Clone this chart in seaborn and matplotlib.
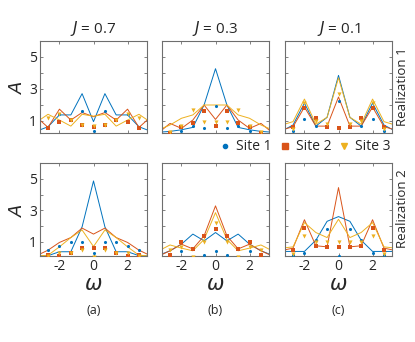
import numpy as np
import pandas as pd
import matplotlib
matplotlib.use('Agg')
import matplotlib.pyplot as plt
import seaborn as sns
from matplotlib.lines import Line2D

# frequency grids
omega_line = [-3.33, -2.67, -2.0, -1.33, -0.67, 0.0, 0.67, 1.33, 2.0, 2.67, 3.33]
omega_dots = [-2.67, -2.0, -1.33, -0.67, 0.0, 0.67, 1.33, 2.0, 2.67]

j_labels = ['0.7', '0.3', '0.1']
panel_tags = ['(a)', '(b)', '(c)']
sites = ['Site 1', 'Site 2', 'Site 3']

# Realization 1, lines
r1_j07_line1 = [0.37, 0.64, 1.38, 1.38, 2.71, 0.96, 2.71, 1.38, 1.38, 0.64, 0.37]
r1_j07_line2 = [1.23, 0.60, 1.74, 1.06, 1.53, 1.27, 1.53, 1.06, 1.74, 0.60, 1.23]
r1_j07_line3 = [0.94, 1.42, 1.06, 0.68, 1.42, 1.30, 1.42, 0.68, 1.06, 1.42, 0.94]
r1_j03_line1 = [0.30, 0.35, 0.45, 0.60, 2.00, 4.27, 2.00, 0.60, 0.45, 0.35, 0.30]
r1_j03_line2 = [0.28, 0.85, 0.54, 1.06, 2.00, 1.10, 2.00, 1.06, 0.54, 0.85, 0.28]
r1_j03_line3 = [0.45, 0.75, 1.17, 1.38, 2.00, 2.00, 2.00, 1.38, 1.17, 0.75, 0.45]
r1_j01_line1 = [0.37, 0.75, 2.12, 0.68, 1.23, 3.85, 1.23, 0.68, 2.12, 0.75, 0.37]
r1_j01_line2 = [0.45, 0.64, 1.87, 0.68, 0.68, 2.50, 0.68, 0.68, 1.87, 0.64, 0.45]
r1_j01_line3 = [0.75, 0.96, 2.37, 0.80, 1.23, 3.70, 1.23, 0.80, 2.37, 0.96, 0.75]

# Realization 1, dots
r1_j07_dot1 = [0.64, 1.42, 1.06, 1.65, 0.37, 1.65, 1.06, 1.42, 0.64]
r1_j07_dot2 = [0.54, 0.96, 1.06, 0.75, 0.64, 0.75, 1.06, 0.96, 0.54]
r1_j07_dot3 = [1.17, 1.42, 1.06, 0.75, 0.68, 0.75, 1.06, 1.42, 1.17]
r1_j03_dot1 = [0.25, 0.40, 0.68, 0.54, 1.95, 0.54, 0.68, 0.40, 0.25]
r1_j03_dot2 = [0.28, 0.60, 0.90, 1.60, 0.68, 1.60, 0.90, 0.60, 0.28]
r1_j03_dot3 = [0.30, 0.68, 1.70, 0.96, 0.96, 0.96, 1.70, 0.68, 0.30]
r1_j01_dot1 = [0.40, 1.10, 0.70, 0.70, 2.22, 0.70, 0.70, 1.10, 0.40]
r1_j01_dot2 = [0.60, 1.80, 1.17, 0.60, 0.54, 0.60, 1.17, 1.80, 0.60]
r1_j01_dot3 = [0.50, 2.10, 1.00, 0.80, 2.70, 0.80, 1.00, 2.10, 0.50]

# Realization 2, lines
r2_j07_line1 = [0.10, 0.12, 0.37, 0.37, 1.95, 4.86, 1.95, 0.37, 0.37, 0.12, 0.10]
r2_j07_line2 = [0.13, 0.47, 0.96, 1.27, 1.87, 1.49, 1.87, 1.27, 0.96, 0.47, 0.13]
r2_j07_line3 = [0.10, 0.15, 0.68, 1.27, 1.75, 0.70, 1.75, 1.27, 0.68, 0.15, 0.10]
r2_j03_line1 = [0.15, 0.43, 0.85, 1.49, 1.06, 1.59, 1.06, 1.49, 0.85, 0.43, 0.15]
r2_j03_line2 = [0.10, 0.43, 0.85, 0.55, 1.38, 3.28, 1.38, 0.55, 0.85, 0.43, 0.10]
r2_j03_line3 = [0.43, 0.80, 0.60, 0.43, 1.15, 2.85, 1.15, 0.43, 0.60, 0.80, 0.43]
r2_j01_line1 = [0.39, 0.39, 0.39, 1.10, 2.30, 2.60, 2.30, 1.10, 0.39, 0.39, 0.39]
r2_j01_line2 = [0.45, 0.60, 2.40, 0.75, 0.68, 4.44, 0.68, 0.75, 2.40, 0.60, 0.45]
r2_j01_line3 = [0.60, 0.68, 2.22, 1.59, 1.27, 2.43, 1.27, 1.59, 2.22, 0.68, 0.60]

# Realization 2, dots
r2_j07_dot1 = [0.47, 0.75, 0.96, 0.96, 0.32, 0.96, 0.96, 0.75, 0.47]
r2_j07_dot2 = [0.15, 0.12, 0.30, 0.60, 0.62, 0.60, 0.30, 0.12, 0.15]
r2_j07_dot3 = [0.12, 0.30, 0.30, 0.50, 0.05, 0.50, 0.30, 0.30, 0.12]
r2_j03_dot1 = [0.20, 0.40, 0.60, 0.18, 0.43, 0.18, 0.60, 0.40, 0.20]
r2_j03_dot2 = [0.15, 0.96, 0.54, 1.38, 1.80, 1.38, 0.54, 0.96, 0.15]
r2_j03_dot3 = [0.50, 0.65, 0.02, 0.96, 2.20, 0.96, 0.02, 0.65, 0.50]
r2_j01_dot1 = [0.15, 0.30, 1.10, 1.80, 0.10, 1.80, 1.10, 0.30, 0.15]
r2_j01_dot2 = [0.50, 1.87, 0.75, 0.68, 0.68, 0.68, 0.75, 1.87, 0.50]
r2_j01_dot3 = [0.20, 1.38, 0.96, 1.00, 0.96, 1.00, 0.96, 1.38, 0.20]

lines = [
    [[r1_j07_line1, r1_j07_line2, r1_j07_line3],
     [r1_j03_line1, r1_j03_line2, r1_j03_line3],
     [r1_j01_line1, r1_j01_line2, r1_j01_line3]],
    [[r2_j07_line1, r2_j07_line2, r2_j07_line3],
     [r2_j03_line1, r2_j03_line2, r2_j03_line3],
     [r2_j01_line1, r2_j01_line2, r2_j01_line3]],
]
dots = [
    [[r1_j07_dot1, r1_j07_dot2, r1_j07_dot3],
     [r1_j03_dot1, r1_j03_dot2, r1_j03_dot3],
     [r1_j01_dot1, r1_j01_dot2, r1_j01_dot3]],
    [[r2_j07_dot1, r2_j07_dot2, r2_j07_dot3],
     [r2_j03_dot1, r2_j03_dot2, r2_j03_dot3],
     [r2_j01_dot1, r2_j01_dot2, r2_j01_dot3]],
]

colors = {'Site 1': '#0072BD', 'Site 2': '#D95319', 'Site 3': '#EDB120'}
markers = {'Site 1': 'o', 'Site 2': 's', 'Site 3': 'v'}
dot_sizes = {'Site 1': 5, 'Site 2': 7, 'Site 3': 9}


def makeFrame(values, omega):
    rows = []
    for site, vals in zip(sites, values):
        for w, a in zip(omega, vals):
            rows.append({'omega': w, 'A': a, 'site': site})
    return pd.DataFrame(rows)


sns.set_style('ticks')
plt.rcParams['font.family'] = ['Open Sans', 'DejaVu Sans']
plt.rcParams['mathtext.fontset'] = 'dejavusans'
textColor = '#262626'
edgeColor = '#6e6e6e'

W, H = 415, 342
fig = plt.figure(figsize=(W / 100, H / 100), dpi=100)

colLeft = [40, 162, 285]
axW = 107
rowTop = [41, 163]
rowH = [92, 93]
ylims = [(0.25, 6), (0.1, 6)]

for r in range(2):
    for c in range(3):
        ax = fig.add_axes([colLeft[c] / W, 1 - (rowTop[r] + rowH[r]) / H, axW / W, rowH[r] / H])
        dfL = makeFrame(lines[r][c], omega_line)
        dfD = makeFrame(dots[r][c], omega_dots)
        sns.lineplot(data=dfL, x='omega', y='A', hue='site', palette=colors, estimator=None,
                     sort=False, lw=0.7, ax=ax, legend=False)
        for site in sites:
            sub = dfD[dfD.site == site]
            sns.scatterplot(data=sub, x='omega', y='A', color=colors[site], marker=markers[site],
                            s=dot_sizes[site], linewidth=0, ax=ax, legend=False, zorder=3)
        ax.set_xlim(-np.pi, np.pi)
        ax.set_ylim(*ylims[r])
        ax.set_xticks([-2, 0, 2])
        ax.set_yticks([1, 2, 3, 4, 5])
        ax.tick_params(direction='in', length=2.5, width=0.6, top=True, right=True,
                       colors=edgeColor, labelcolor=textColor, labelsize=10, pad=2)
        if c == 0:
            ax.set_yticklabels(['1', '', '3', '', '5'])
            ax.set_ylabel('$A$', fontsize=13, color=textColor, labelpad=2)
        else:
            ax.set_yticklabels([])
            ax.set_ylabel('')
        if r == 1:
            ax.set_xticklabels(['-2', '0', '2'])
            ax.set_xlabel(r'$\omega$', fontsize=15, color=textColor, labelpad=0)
        else:
            ax.set_xticklabels([])
            ax.set_xlabel('')
        for sp in ax.spines.values():
            sp.set_color(edgeColor)
            sp.set_linewidth(0.8)

# column titles and tags
for c in range(3):
    cx = (colLeft[c] + axW / 2) / W
    fig.text(cx, 1 - 28 / H, '$J$ = ' + j_labels[c], ha='center', va='center',
             fontsize=11, color=textColor)
    fig.text(cx, 1 - 310 / H, panel_tags[c], ha='center', va='center',
             fontsize=9, color=textColor)

fig.text(402 / W, 1 - 87 / H, 'Realization 1', rotation=90, ha='center', va='center',
         fontsize=9.5, color=textColor)
fig.text(402 / W, 1 - 209 / H, 'Realization 2', rotation=90, ha='center', va='center',
         fontsize=9.5, color=textColor)

handles = [Line2D([], [], ls='none', marker=markers[s], color=colors[s],
                  markersize={'Site 1': 3, 'Site 2': 4.5, 'Site 3': 5}[s]) for s in sites]
fig.legend(handles, sites, loc='center', bbox_to_anchor=(305 / W, 1 - 147 / H), ncol=3,
           frameon=False, fontsize=10, handlelength=0.8, handletextpad=0.4,
           columnspacing=0.5, labelcolor=textColor, borderpad=0)

fig.savefig('out.png', dpi=100)
